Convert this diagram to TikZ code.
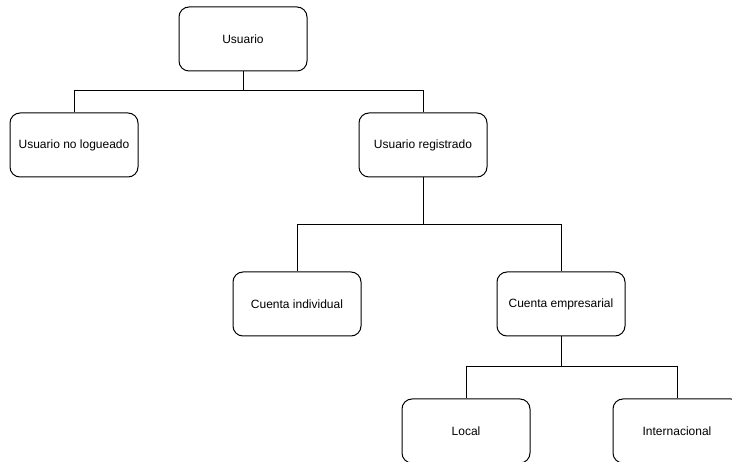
\documentclass[tikz,border=0pt]{standalone}
\usepackage{fontspec}
\setmainfont{Liberation Sans}

\begin{document}
\begin{tikzpicture}[x=1pt, y=-1pt,
    box/.style={draw, rounded corners=10pt, line width=1pt,
      minimum width=128pt, minimum height=64pt,
      font=\fontsize{12}{14}\selectfont}]
    \useasboundingbox (0, 0) rectangle (732, 462);
    \clip (0, 0) rectangle (732, 462);
    \node[box] (usuario) at (243, 39) {Usuario};
    \node[box] (usuario no logueado) at (74, 145) {Usuario no logueado};
    \node[box] (usuario registrado) at (423, 145) {Usuario registrado};
    \draw[line width = 1pt] (usuario.south) -- ++(0, 19) -| (usuario no logueado.north);
    \draw[line width = 1pt] (usuario.south) -- ++(0, 19) -| (usuario registrado.north);
    \node[box] (cuenta individual) at (297, 304) {Cuenta individual};
    \node[box] (cuenta empresarial) at (561, 304) {Cuenta empresarial};
    \draw[line width = 1pt] (usuario registrado.south) -- ++(0, 47) -| (cuenta individual.north);
    \draw[line width = 1pt] (usuario registrado.south) -- ++(0, 47) -| (cuenta empresarial.north);
    \node[box] (local) at (466, 431) {Local};
    \node[box] (internacional) at (677, 431) {Internacional};
    \draw[line width = 1pt] (cuenta empresarial.south) -- ++(0, 30) -| (local.north);
    \draw[line width = 1pt] (cuenta empresarial.south) -- ++(0, 30) -| (internacional.north);
  \end{tikzpicture}
\end{document}
